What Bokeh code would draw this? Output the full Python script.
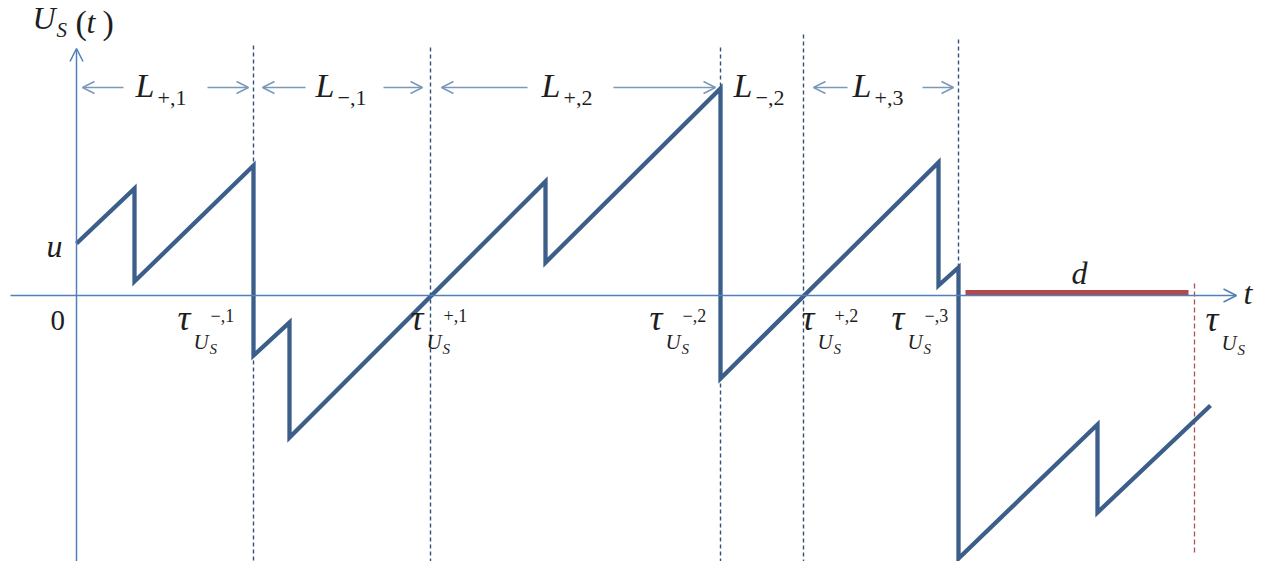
from bokeh.plotting import figure
from bokeh.models import Arrow, OpenHead, Range1d, ColumnDataSource
from bokeh.core.properties import value
from bokeh.embed import file_html
from bokeh.resources import INLINE

# ---- data (t, U_S values; origin at the axis crossing) ----
t_curve = [0, 58, 58, 177, 177, 213, 213, 469, 469, 644, 644, 862, 862, 882, 882, 1021, 1021, 1134]
U_curve = [52, 107, 14, 130, -60, -27, -142, 114, 33, 207, -83, 133, 10, 28, -263, -129, -217, -110]

tau_times = [177, 354, 644, 727, 882]          # dashed separators
tau_tops = [250, 248, 248, 261, 256]
tau_end = 1118                                  # final tau_{U_S}
d_start, d_end, d_level = 889, 1112, 3          # dead-zone segment d

tau_sups = ["\u2212,1", "+,1", "\u2212,2", "+,2", "\u2212,3"]
L_names = ["+,1", "\u2212,1", "+,2", "\u2212,2", "+,3"]

# ---- figure ----
p = figure(width=1254, height=561, x_range=Range1d(-76, 1178), y_range=Range1d(-266, 295),
           output_backend="svg", toolbar_location=None, min_border=0,
           x_axis_location=None, y_axis_location=None)
p.grid.visible = False
p.outline_line_color = None
p.background_fill_color = "white"

AX = "#4F80B8"
ARR = "#7A98B8"
DASH = "#34507A"

# axes with open arrow heads
p.add_layout(Arrow(end=OpenHead(size=13, line_color=AX, line_width=1.5),
                   x_start=-66, y_start=0, x_end=1160, y_end=0,
                   line_color=AX, line_width=1.5))
p.add_layout(Arrow(end=OpenHead(size=13, line_color=AX, line_width=1.5),
                   x_start=0, y_start=-290, x_end=0, y_end=247,
                   line_color=AX, line_width=1.5))

# dashed separators
p.segment(x0=tau_times, y0=tau_tops, x1=tau_times, y1=[-300] * len(tau_times),
          line_dash="4 3", line_width=1.4, line_color=DASH)
p.segment(x0=[tau_end], y0=[12], x1=[tau_end], y1=[-260],
          line_dash="5 3", line_width=1.3, line_color="#B05050")

# red d segment
p.segment(x0=[d_start], y0=[d_level], x1=[d_end], y1=[d_level],
          line_width=5, line_color="#B0484C")

# main curve
p.line(t_curve, U_curve, line_width=4.3, line_color="#3C5E8A", line_join="miter")

# L arrows (pairs: tail -> head)
L_arrows = [(47, 6), (131, 172), (229, 186), (307, 346), (451, 365), (537, 639),
            (771, 737), (846, 877)]
for xs_, xe_ in L_arrows:
    p.add_layout(Arrow(end=OpenHead(size=12, line_color=ARR, line_width=1.5),
                       x_start=xs_, y_start=208, x_end=xe_, y_end=208,
                       line_color=ARR, line_width=1.5))

# ---- text pieces ----
xs, ys, txt, size, style = [], [], [], [], []

def put(x, y, s, sz, st="italic"):
    xs.append(x); ys.append(y + 0.4 * sz); txt.append(s); size.append(f"{sz}px"); style.append(st)

def tau_label(x0, yb, sup=None):
    put(x0, yb, "\u03c4", 36)
    put(x0 + 16, yb - 18, "U", 21)
    put(x0 + 32, yb - 22, "S", 15)
    if sup:
        put(x0 + 33, yb + 10, sup, 18, "normal")

def L_label(x0, yb, sub):
    put(x0, yb, "L", 34)
    put(x0 + 22, yb - 7, sub, 22, "normal")

for x0, s in zip([101, 334, 573, 725, 815], tau_sups):
    tau_label(x0, -37, s)
tau_label(1129, -38)

for x0, s in zip([59, 239, 465, 657, 776], L_names):
    L_label(x0, 196, s)

# U_S(t)
put(-44, 265, "U", 32)
put(-20, 257, "S", 21)
put(-1, 259, "(", 34, "normal")
put(10, 261, "t", 32)
put(26, 259, ")", 34, "normal")

put(-30, 37, "u", 32)
put(-26, -37, "0", 29, "normal")
put(995, 10, "d", 32)
put(1167, -10, "t", 32)

src = ColumnDataSource(dict(x=xs, y=ys, text=txt, size=size, style=style))
p.text(x="x", y="y", text="text", source=src, text_font=value("Liberation Serif"),
       text_font_size="size", text_font_style="style", text_color="#1E1E1E",
       text_align="left", text_baseline="alphabetic")

open("out.html", "w").write(file_html(p, INLINE))
